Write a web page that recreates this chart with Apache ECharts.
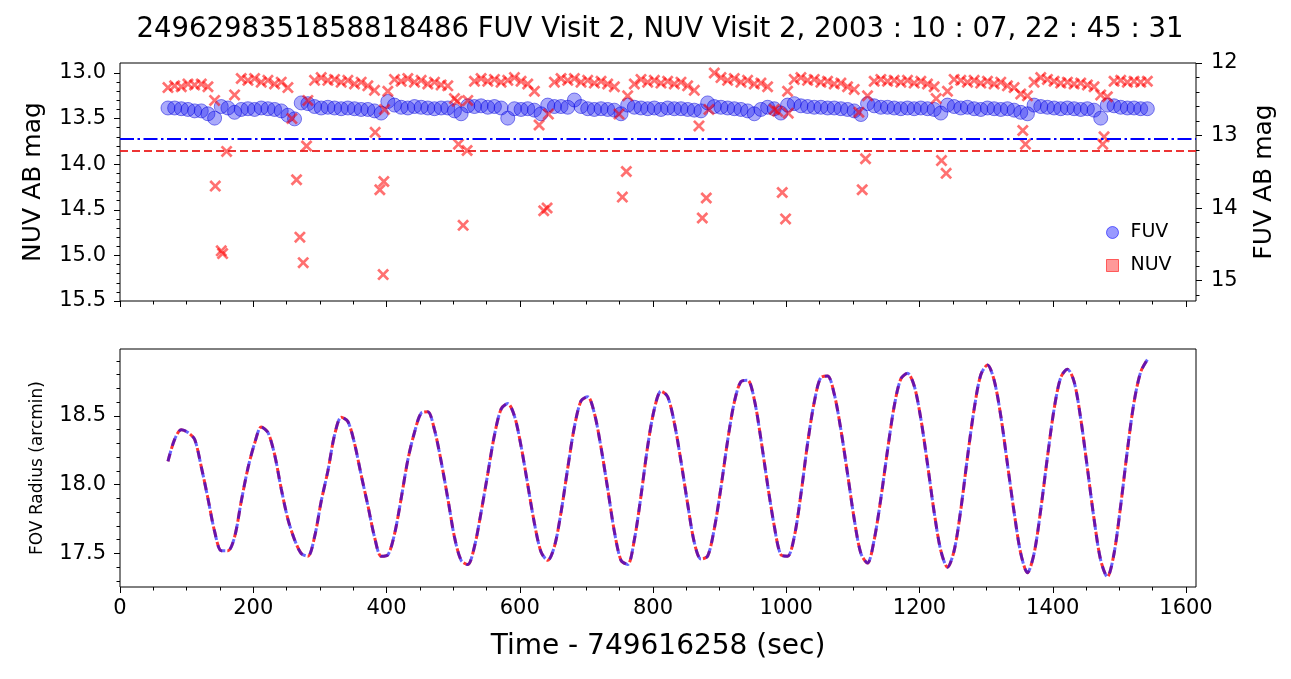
<!DOCTYPE html>
<html>
<head>
<meta charset="utf-8">
<title>FUV / NUV light curve</title>
<script src="https://cdn.jsdelivr.net/npm/echarts@6/dist/echarts.min.js"></script>
<style>
  html, body { margin: 0; padding: 0; background: #fff; }
  #chart { width: 1291px; height: 679px; }
</style>
</head>
<body>
<div id="chart"></div>
<script>
// time bins (sec after 749616258)
const timeSec = [
  72, 82, 92, 102, 112, 122, 132, 142, 152, 162,
  172, 182, 192, 202, 212, 222, 232, 242, 252, 262,
  272, 282, 292, 302, 312, 322, 332, 342, 352, 362,
  372, 382, 392, 402, 412, 422, 432, 442, 452, 462,
  472, 482, 492, 502, 512, 522, 532, 542, 552, 562,
  572, 582, 592, 602, 612, 622, 632, 642, 652, 662,
  672, 682, 692, 702, 712, 722, 732, 742, 752, 762,
  772, 782, 792, 802, 812, 822, 832, 842, 852, 862,
  872, 882, 892, 902, 912, 922, 932, 942, 952, 962,
  972, 982, 992, 1002, 1012, 1022, 1032, 1042, 1052, 1062,
  1072, 1082, 1092, 1102, 1112, 1122, 1132, 1142, 1152, 1162,
  1172, 1182, 1192, 1202, 1212, 1222, 1232, 1242, 1252, 1262,
  1272, 1282, 1292, 1302, 1312, 1322, 1332, 1342, 1352, 1362,
  1372, 1382, 1392, 1402, 1412, 1422, 1432, 1442, 1452, 1462,
  1472, 1482, 1492, 1502, 1512, 1522, 1532, 1542
];

// FUV AB mag (right axis)
const fuvMag = [
  12.62, 12.62, 12.63, 12.64, 12.66, 12.66, 12.70, 12.76, 12.60, 12.62,
  12.68, 12.64, 12.63, 12.64, 12.62, 12.63, 12.64, 12.66, 12.72, 12.77,
  12.55, 12.56, 12.60, 12.62, 12.61, 12.62, 12.63, 12.62, 12.63, 12.64,
  12.64, 12.66, 12.69, 12.53, 12.58, 12.61, 12.62, 12.60, 12.61, 12.62,
  12.63, 12.62, 12.62, 12.66, 12.70, 12.59, 12.60, 12.59, 12.61, 12.60,
  12.62, 12.76, 12.63, 12.64, 12.63, 12.65, 12.70, 12.58, 12.60, 12.60,
  12.61, 12.51, 12.60, 12.63, 12.64, 12.63, 12.64, 12.65, 12.70, 12.58,
  12.61, 12.62, 12.63, 12.62, 12.64, 12.62, 12.63, 12.63, 12.64, 12.65,
  12.66, 12.55, 12.60, 12.61, 12.62, 12.63, 12.64, 12.66, 12.70, 12.64,
  12.61, 12.63, 12.69, 12.58, 12.56, 12.59, 12.60, 12.61, 12.61, 12.62,
  12.62, 12.63, 12.64, 12.66, 12.71, 12.56, 12.59, 12.61, 12.61, 12.62,
  12.63, 12.62, 12.63, 12.62, 12.63, 12.64, 12.69, 12.58, 12.60, 12.62,
  12.61, 12.63, 12.64, 12.62, 12.63, 12.64, 12.63, 12.65, 12.68, 12.70,
  12.58, 12.60, 12.61, 12.62, 12.63, 12.62, 12.63, 12.64, 12.63, 12.65,
  12.76, 12.58, 12.59, 12.61, 12.62, 12.62, 12.63, 12.63
];

// NUV AB mag (left axis), null where the bin drops out
const nuvMag = [
  13.16, 13.14, 13.15, 13.12, 13.13, 13.12, 13.15, 13.30, null, null,
  13.24, 13.06, 13.08, 13.06, 13.10, 13.08, 13.12, 13.10, 13.16, null,
  null, 13.30, 13.08, 13.05, 13.08, 13.07, 13.10, 13.08, 13.12, 13.10,
  13.14, 13.19, null, 13.20, 13.07, 13.09, 13.06, 13.10, 13.08, 13.12,
  13.10, 13.13, 13.14, 13.28, null, 13.30, 13.09, 13.06, 13.09, 13.07,
  13.10, 13.08, 13.05, 13.09, 13.12, 13.20, null, null, 13.10, 13.06,
  13.08, 13.06, 13.10, 13.08, 13.11, 13.09, 13.12, 13.15, null, 13.25,
  13.12, 13.07, 13.10, 13.08, 13.11, 13.09, 13.12, 13.10, 13.14, 13.19,
  null, null, 13.00, 13.05, 13.08, 13.06, 13.10, 13.08, 13.12, 13.11,
  13.15, 13.40, null, 13.20, 13.07, 13.05, 13.08, 13.07, 13.10, 13.09,
  13.12, 13.11, 13.15, 13.18, null, 13.25, 13.09, 13.07, 13.09, 13.08,
  13.10, 13.08, 13.11, 13.09, 13.12, 13.15, null, 13.20, 13.07, 13.08,
  13.10, 13.08, 13.11, 13.09, 13.12, 13.10, 13.14, 13.16, 13.23, 13.25,
  13.10, 13.05, 13.07, 13.09, 13.11, 13.10, 13.12, 13.11, 13.13, 13.15,
  13.24, 13.26, 13.09, 13.08, 13.10, 13.09, 13.10, 13.09
];

// faint NUV points near each dither minimum
const nuvDipTime = [143, 152, 154, 160, 258, 265, 270, 275, 280, 383, 390, 395, 396, 397,
  506, 508, 515, 521, 629, 636, 641, 643, 749, 754, 760, 869, 874, 880, 884,
  987, 994, 999, 1003, 1109, 1114, 1119, 1225, 1233, 1240, 1355, 1359, 1475, 1477];
const nuvDipMag = [14.24, 14.95, 14.98, 13.86, 13.50, 14.17, 14.80, 15.08, 13.80, 13.65, 14.28, 15.21, 14.19, 13.40,
  13.31, 13.78, 14.67, 13.85, 13.57, 14.51, 14.48, 13.45, 13.45, 14.36, 14.08, 13.58, 14.59, 14.37, 13.40,
  13.42, 14.31, 14.60, 13.44, 13.43, 14.28, 13.94, 13.28, 13.96, 14.10, 13.63, 13.78, 13.78, 13.70];

// FOV radius (arcmin)
const fovRadius = [
  18.17, 18.33, 18.40, 18.38, 18.33, 18.13, 17.90, 17.66, 17.52, 17.52,
  17.62, 17.88, 18.12, 18.30, 18.42, 18.38, 18.22, 17.97, 17.75, 17.60,
  17.50, 17.48, 17.62, 17.88, 18.10, 18.36, 18.49, 18.46, 18.30, 18.07,
  17.85, 17.62, 17.48, 17.49, 17.64, 17.90, 18.18, 18.38, 18.52, 18.53,
  18.40, 18.17, 17.90, 17.62, 17.45, 17.42, 17.55, 17.80, 18.08, 18.36,
  18.55, 18.59, 18.50, 18.28, 18.00, 17.72, 17.51, 17.45, 17.55, 17.80,
  18.12, 18.42, 18.61, 18.64, 18.52, 18.27, 17.97, 17.66, 17.45, 17.42,
  17.60, 17.92, 18.28, 18.55, 18.68, 18.64, 18.45, 18.17, 17.86, 17.58,
  17.46, 17.48, 17.68, 17.98, 18.32, 18.60, 18.75, 18.76, 18.62, 18.33,
  18.00, 17.70, 17.49, 17.48, 17.62, 17.93, 18.30, 18.60, 18.78, 18.79,
  18.66, 18.40, 18.08, 17.75, 17.50, 17.43, 17.60, 17.90, 18.25, 18.57,
  18.77, 18.81, 18.72, 18.48, 18.15, 17.80, 17.52, 17.40, 17.52, 17.82,
  18.20, 18.55, 18.80, 18.87, 18.76, 18.50, 18.15, 17.80, 17.50, 17.36,
  17.50, 17.82, 18.20, 18.55, 18.78, 18.84, 18.75, 18.48, 18.12, 17.75,
  17.45, 17.33, 17.50, 17.85, 18.25, 18.60, 18.82, 18.91
];

const fuvLimit = 13.05;
const nuvLimit = 13.85;

const timeTicks = [0, 200, 400, 600, 800, 1000, 1200, 1400, 1600];
const nuvTicks = [13.0, 13.5, 14.0, 14.5, 15.0, 15.5];
const fuvTicks = [12, 13, 14, 15];
const radiusTicks = [17.5, 18.0, 18.5];

const FONT = 'DejaVu Sans';

function minors(lo, hi, step, majors) {
  const out = [];
  for (let v = lo; v <= hi + 1e-9; v += step) {
    const r = Math.round(v * 100) / 100;
    if (!majors.some(m => Math.abs(m - r) < 1e-6)) out.push(r);
  }
  return out;
}

function axis(grid, pos, range, ticks, len, inverse, fmt, margin) {
  const ax = {
    type: 'value', gridIndex: grid, position: pos,
    min: range[0], max: range[1], inverse: !!inverse,
    splitLine: { show: false },
    axisLine: { show: false },
    axisTick: { show: true, customValues: ticks, length: len, lineStyle: { color: '#000', width: 1 } },
    axisLabel: { show: false }
  };
  if (fmt) {
    ax.axisLabel = {
      show: true, customValues: ticks, formatter: fmt, margin: margin,
      color: '#000', fontFamily: FONT, fontSize: 21
    };
  }
  return ax;
}

function nameStyle(size) {
  return { fontFamily: FONT, fontSize: size, color: '#000' };
}

const xRange = [0, 1615];
const nuvRange = [12.89, 15.5];
const fuvRange = [12, 15.28];
const radiusRange = [17.256, 18.987];

const xTop = axis(0, 'bottom', xRange, timeTicks, 6, false);
const xTopMinor = axis(0, 'bottom', xRange, minors(0, 1600, 50, timeTicks), 3.5, false);
const xBottom = axis(1, 'bottom', xRange, timeTicks, 6, false, v => String(v), 11);
xBottom.name = 'Time - 749616258 (sec)';
xBottom.nameLocation = 'middle';
xBottom.nameGap = 46;
xBottom.nameTextStyle = nameStyle(28);
const xBottomMinor = axis(1, 'bottom', xRange, minors(0, 1600, 50, timeTicks), 3.5, false);

const yNuv = axis(0, 'left', nuvRange, nuvTicks, 6, true, v => v.toFixed(1), 14);
yNuv.name = 'NUV AB mag';
yNuv.nameLocation = 'middle';
yNuv.nameGap = 74;
yNuv.nameTextStyle = nameStyle(25);
const yNuvMinor = axis(0, 'left', nuvRange, minors(13.0, 15.5, 0.1, nuvTicks), 3.5, true);

const yFuv = axis(0, 'right', fuvRange, fuvTicks, 6, true, v => String(v), 15);
yFuv.name = 'FUV AB mag';
yFuv.nameLocation = 'middle';
yFuv.nameGap = 56;
yFuv.nameTextStyle = nameStyle(25);
const yFuvMinor = axis(0, 'right', fuvRange, minors(12, 15.2, 0.2, fuvTicks), 3.5, true);

const yRad = axis(1, 'left', radiusRange, radiusTicks, 6, false, v => v.toFixed(1), 14);
yRad.name = 'FOV Radius (arcmin)';
yRad.nameLocation = 'middle';
yRad.nameGap = 74;
yRad.nameTextStyle = nameStyle(17);
const yRadMinor = axis(1, 'left', radiusRange, minors(17.3, 18.9, 0.1, radiusTicks), 3.5, false);

// build point lists from the arrays
const fuvPts = timeSec.map((t, i) => [t, fuvMag[i]]);
const nuvPts = timeSec.map((t, i) => [t, nuvMag[i]]).filter(p => p[1] !== null)
  .concat(nuvDipTime.map((t, i) => [t, nuvDipMag[i]]));
const radiusPts = timeSec.map((t, i) => [t, fovRadius[i]]);

const xMark = 'path://M0,1.6L1.6,0L5,3.4L8.4,0L10,1.6L6.6,5L10,8.4L8.4,10L5,6.6L1.6,10L0,8.4L3.4,5Z';

const chart = echarts.init(document.getElementById('chart'));

chart.setOption({
  animation: false,
  backgroundColor: '#fff',
  title: {
    text: '2496298351858818486 FUV Visit 2, NUV Visit 2, 2003 : 10 : 07, 22 : 45 : 31',
    left: 660, top: 16, textAlign: 'center', padding: 0,
    textStyle: { fontFamily: FONT, fontSize: 27.5, fontWeight: 'normal', color: '#000' }
  },
  legend: {
    orient: 'vertical', left: 1106, top: 223, padding: 0,
    itemWidth: 12, itemHeight: 12, itemGap: 14,
    textStyle: { fontFamily: FONT, fontSize: 19, color: '#000', padding: [0, 0, 0, 7] },
    data: [
      { name: 'FUV', icon: 'circle', itemStyle: { color: 'rgba(0,0,255,0.5)', borderColor: 'rgba(0,0,255,0.7)', borderWidth: 1 } },
      { name: 'NUV', icon: 'rect', itemStyle: { color: 'rgba(255,0,0,0.5)', borderColor: 'rgba(255,0,0,0.7)', borderWidth: 1 } }
    ]
  },
  grid: [
    { left: 120, top: 63, width: 1076, height: 238, show: true, borderColor: '#000', borderWidth: 1, backgroundColor: 'transparent' },
    { left: 120, top: 349, width: 1076, height: 238, show: true, borderColor: '#000', borderWidth: 1, backgroundColor: 'transparent' }
  ],
  xAxis: [xTop, xTopMinor, xBottom, xBottomMinor],
  yAxis: [yNuv, yNuvMinor, yFuv, yFuvMinor, yRad, yRadMinor],
  series: [
    {
      name: 'FUV', type: 'scatter', xAxisIndex: 0, yAxisIndex: 2,
      data: fuvPts, symbol: 'circle', symbolSize: 14,
      itemStyle: { color: 'rgba(20,20,240,0.45)', borderColor: 'rgba(0,0,220,0.6)', borderWidth: 1 },
      markLine: {
        silent: true, symbol: ['none', 'none'], label: { show: false },
        lineStyle: { color: '#0000ff', width: 2, type: [14, 3.5, 2.5, 3.5] },
        data: [{ yAxis: fuvLimit }]
      }
    },
    {
      name: 'NUV', type: 'scatter', xAxisIndex: 0, yAxisIndex: 0,
      data: nuvPts, symbol: xMark, symbolSize: 12,
      itemStyle: { color: 'rgba(255,0,0,0.7)' },
      markLine: {
        silent: true, symbol: ['none', 'none'], label: { show: false },
        lineStyle: { color: 'rgba(235,30,30,0.9)', width: 2, type: [8, 4] },
        data: [{ yAxis: nuvLimit }]
      }
    },
    {
      name: 'NUV radius', type: 'line', xAxisIndex: 2, yAxisIndex: 4,
      data: radiusPts, showSymbol: false, smooth: 0.3,
      lineStyle: { color: 'rgba(255,0,0,0.8)', width: 3, type: [11, 5], dashOffset: 3 }
    },
    {
      name: 'FUV radius', type: 'line', xAxisIndex: 2, yAxisIndex: 4,
      data: radiusPts, showSymbol: false, smooth: 0.3,
      lineStyle: { color: 'rgba(0,0,255,0.6)', width: 3, type: [11, 5] }
    }
  ]
});
</script>
</body>
</html>
